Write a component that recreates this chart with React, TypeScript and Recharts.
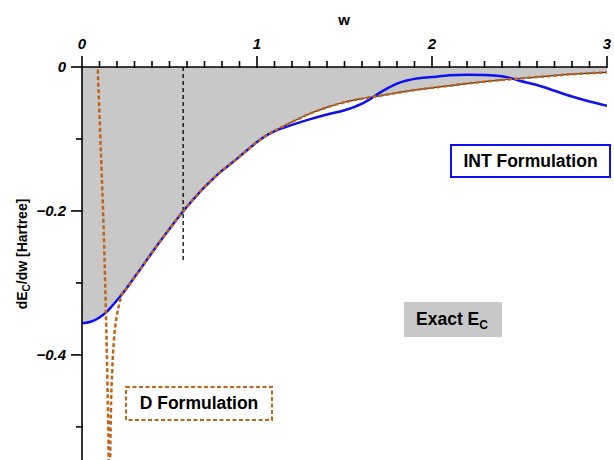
import React from 'react';
import { ComposedChart, Area, Line, XAxis, YAxis, ReferenceLine } from 'recharts';

// ---- data ----
const exactW = [0, 0.05, 0.1, 0.15, 0.2, 0.25, 0.3, 0.35, 0.4, 0.45, 0.5, 0.55, 0.6, 0.65, 0.7, 0.75, 0.8, 0.85, 0.9, 0.95, 1.0, 1.05, 1.1, 1.15, 1.2, 1.3, 1.4, 1.5, 1.6, 1.7, 1.8, 1.9, 2.0, 2.2, 2.4, 2.6, 2.8, 3.0];
const exactV = [-0.356, -0.354, -0.348, -0.338, -0.324, -0.309, -0.292, -0.275, -0.258, -0.241, -0.225, -0.209, -0.194, -0.18, -0.167, -0.155, -0.144, -0.1345, -0.1245, -0.1142, -0.1042, -0.0957, -0.0885, -0.0825, -0.0765, -0.065, -0.056, -0.049, -0.044, -0.04, -0.036, -0.032, -0.029, -0.023, -0.018, -0.014, -0.01, -0.0075];

const intW = [0, 0.05, 0.1, 0.15, 0.2, 0.25, 0.3, 0.35, 0.4, 0.45, 0.5, 0.55, 0.6, 0.65, 0.7, 0.75, 0.8, 0.85, 0.9, 0.95, 1.0, 1.05, 1.1, 1.2, 1.3, 1.4, 1.5, 1.55, 1.6, 1.65, 1.7, 1.75, 1.8, 1.85, 1.9, 2.0, 2.1, 2.2, 2.3, 2.4, 2.45, 2.5, 2.6, 2.7, 2.8, 2.9, 3.0];
const intV = [-0.356, -0.354, -0.348, -0.338, -0.324, -0.309, -0.292, -0.275, -0.258, -0.241, -0.225, -0.209, -0.194, -0.18, -0.167, -0.155, -0.144, -0.1345, -0.1245, -0.1142, -0.1042, -0.0957, -0.0895, -0.0805, -0.0728, -0.066, -0.06, -0.056, -0.051, -0.044, -0.036, -0.029, -0.023, -0.019, -0.0165, -0.014, -0.0115, -0.0107, -0.011, -0.013, -0.0155, -0.019, -0.025, -0.033, -0.041, -0.048, -0.054];

const dW = [0.07, 0.0896, 0.1119, 0.1256, 0.1364, 0.145, 0.1524, 0.1553, 0.16, 0.1615, 0.1655, 0.1729, 0.1826, 0.1981, 0.2112, 0.2312, 0.25, 0.3, 0.35, 0.4, 0.45, 0.5, 0.55, 0.6, 0.65, 0.7, 0.75, 0.8, 0.85, 0.9, 0.95, 1.0, 1.05, 1.1, 1.15, 1.2, 1.3, 1.4, 1.5, 1.6, 1.7, 1.8, 1.9, 2.0, 2.2, 2.4, 2.6, 2.8, 3.0];
const dV = [0.15, 0, -0.143, -0.24, -0.338, -0.435, -0.542, -0.62, -0.62, -0.546, -0.477, -0.421, -0.379, -0.347, -0.331, -0.314, -0.309, -0.292, -0.275, -0.258, -0.241, -0.225, -0.209, -0.194, -0.18, -0.167, -0.155, -0.144, -0.1345, -0.1245, -0.1142, -0.1042, -0.0957, -0.0885, -0.0825, -0.0765, -0.065, -0.056, -0.049, -0.044, -0.04, -0.036, -0.032, -0.029, -0.023, -0.018, -0.014, -0.01, -0.0075];

const xDomain = [0, 3];
const yDomain = [-0.546, 0];
const xTicks = [0, 0.1, 0.2, 0.3, 0.4, 0.5, 0.6, 0.7, 0.8, 0.9, 1, 1.1, 1.2, 1.3, 1.4, 1.5, 1.6, 1.7, 1.8, 1.9, 2, 2.1, 2.2, 2.3, 2.4, 2.5, 2.6, 2.7, 2.8, 2.9, 3];
const xMajor = [0, 1, 2, 3];
const yTicks = [0, -0.1, -0.2, -0.3, -0.4, -0.5];
const yMajor = [0, -0.2, -0.4];
const yLabels: Record<string, string> = { '0': '0', '-0.2': '\u22120.2', '-0.4': '\u22120.4' };

const markerW = 0.578;
const markerTop = 0;
const markerBottom = -0.271;

const exactData = exactW.map((w, i) => ({ w, v: exactV[i] }));
const intData = intW.map((w, i) => ({ w, v: intV[i] }));
const dData = dW.map((w, i) => ({ w, v: dV[i] }));

// layout
const W = 614;
const H = 460;
const AXIS_W = 82;
const AXIS_H = 67;
const RIGHT = 7;

const FONT = '"Liberation Sans", Arial, sans-serif';
const ORANGE = '#c0641a';
const BLUE = '#1010ee';
const GRAY = '#c8c8c8';

const XTick = (props: any) => {
  const { x, y, payload } = props;
  const major = xMajor.includes(payload.value);
  const len = major ? 11 : 6;
  return (
    <g>
      <path d={`M${x},${y + 1}L${x},${y - len}`} stroke="#000" strokeWidth={1.6} fill="none" />
      {major && (
        <text x={x} y={y - 18} textAnchor="middle" fontFamily={FONT} fontSize={15} fontWeight="bold" fontStyle="italic" fill="#000" stroke="none">
          {payload.value}
        </text>
      )}
    </g>
  );
};

const YTick = (props: any) => {
  const { x, y, payload } = props;
  const major = yMajor.includes(payload.value);
  const len = major ? 11 : 6;
  return (
    <g>
      <path d={`M${x + 1},${y}L${x - len},${y}`} stroke="#000" strokeWidth={1.6} fill="none" />
      {major && (
        <text x={x - 16} y={y + 5} textAnchor="end" fontFamily={FONT} fontSize={15} fontWeight="bold" fontStyle="italic" fill="#000" stroke="none">
          {yLabels[String(payload.value)]}
        </text>
      )}
    </g>
  );
};

export default function App() {
  return (
    <div style={{ position: 'absolute', left: 0, top: 0, width: W, height: H, overflow: 'hidden', background: '#fff' }}>
      <ComposedChart width={W} height={H} margin={{ top: 0, right: RIGHT, bottom: 0, left: 0 }}>
        <XAxis
          dataKey="w"
          type="number"
          orientation="top"
          domain={xDomain}
          ticks={xTicks}
          interval={0}
          allowDataOverflow
          height={AXIS_H}
          tickSize={0}
          tickMargin={0}
          tickLine={false}
          axisLine={{ stroke: '#000', strokeWidth: 1.6 }}
          tick={<XTick />}
        />
        <YAxis
          type="number"
          domain={yDomain}
          ticks={yTicks}
          interval={0}
          allowDataOverflow
          width={AXIS_W}
          tickSize={0}
          tickMargin={0}
          tickLine={false}
          axisLine={{ stroke: '#000', strokeWidth: 1.6 }}
          tick={<YTick />}
        />
        <Area data={exactData} dataKey="v" type="monotone" baseValue={0} fill={GRAY} fillOpacity={1} stroke="#333" strokeWidth={1.2} isAnimationActive={false} dot={false} activeDot={false} />
        <ReferenceLine segment={[{ x: markerW, y: markerTop }, { x: markerW, y: markerBottom }]} stroke="#000" strokeWidth={1.3} strokeDasharray="4 3" />
        <Line data={intData} dataKey="v" type="monotone" stroke={BLUE} strokeWidth={2.5} dot={false} activeDot={false} isAnimationActive={false} />
        <Line data={dData} dataKey="v" type="monotone" stroke={ORANGE} strokeWidth={2.5} strokeDasharray="4 2.5" dot={false} activeDot={false} isAnimationActive={false} />
      </ComposedChart>
      <svg width={W} height={H} style={{ position: 'absolute', left: 0, top: 0, pointerEvents: 'none' }}>
        <text x={344} y={25} textAnchor="middle" fontFamily={FONT} fontSize={15} fontWeight="bold" fill="#000">w</text>
        <text transform="rotate(-90, 27, 254)" x={27} y={254} textAnchor="middle" fontFamily={FONT} fontSize={14} fontWeight="bold" fill="#000">
          dE<tspan fontSize={10} dy={3}>C</tspan><tspan dy={-3}>/dw [Hartree]</tspan>
        </text>
        <rect x={451} y={145} width={159} height={32} fill="#fff" stroke={BLUE} strokeWidth={2} />
        <text x={530.5} y={167.3} textAnchor="middle" fontFamily={FONT} fontSize={17.5} fontWeight="bold" fill="#000">INT Formulation</text>
        <rect x={404} y={302} width={98} height={35} fill={GRAY} />
        <text x={452} y={325} textAnchor="middle" fontFamily={FONT} fontSize={17.5} fontWeight="bold" fill="#000">
          Exact E<tspan fontSize={12} dy={4}>C</tspan>
        </text>
        <rect x={126} y={387} width={146} height={33} fill="#fff" stroke={ORANGE} strokeWidth={2} strokeDasharray="4 2.5" />
        <text x={199} y={409.3} textAnchor="middle" fontFamily={FONT} fontSize={17.5} fontWeight="bold" fill="#000">D Formulation</text>
      </svg>
    </div>
  );
}
